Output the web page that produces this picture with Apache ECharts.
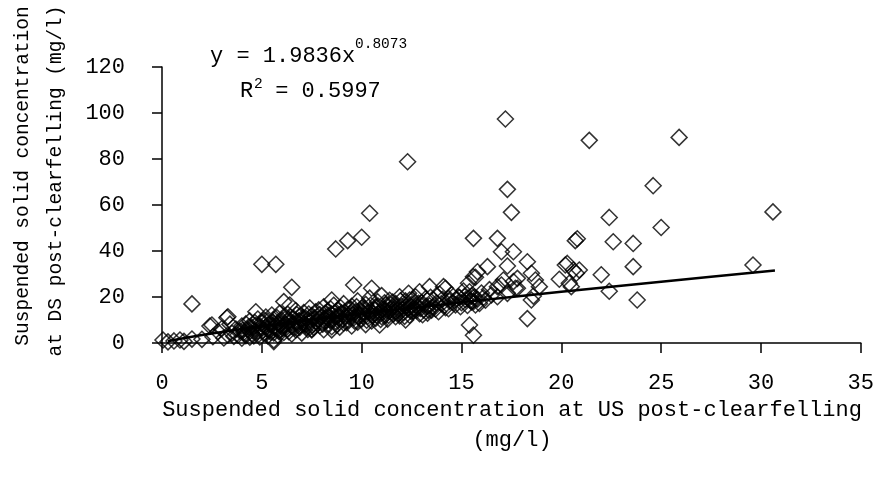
<!DOCTYPE html>
<html>
<head>
<meta charset="utf-8">
<script src="https://cdn.jsdelivr.net/npm/echarts@6/dist/echarts.min.js"></script>
<style>
html,body{margin:0;padding:0;background:#fff;}
#chart{width:877px;height:479px;}
</style>
</head>
<body>
<div id="chart"></div>
<script>
// Tick settings
var xTicks = {min: 0, max: 35, interval: 5};
var yTicks = {min: 0, max: 120, interval: 20};

// Texts
var xTitle1 = 'Suspended solid concentration at US post-clearfelling';
var xTitle2 = '(mg/l)';
var yTitle1 = 'Suspended solid concentration';
var yTitle2 = 'at DS post-clearfelling (mg/l)';
var eqMain = 'y = 1.9836x';
var eqExp = '0.8073';
var r2Label = 'R';
var r2Exp = '2';
var r2Value = ' = 0.5997';

// Scattered outliers (US, DS)
var outlierPoints = [
  [1.5,17],[5.0,34.2],[5.7,34.2],[8.7,40.9],[9.3,44.5],[10.0,46],[10.4,56.4],[12.3,78.8],
  [17.2,97.4],[17.3,66.8],[17.5,56.8],[15.6,45.5],[16.8,45.5],[21.4,88.1],[25.9,89.4],
  [24.6,68.4],[22.4,54.6],[25.0,50.2],[22.6,44],[23.6,43.3],[20.7,44.5],[20.8,45.3],
  [23.6,33.2],[22.0,29.7],[22.4,22.5],[23.8,18.7],[18.3,10.6],[15.4,7.8],[15.6,3.4],
  [30.6,57],[29.6,33.9],
  [6.5,24.2],[9.6,25.2],[10.5,23.8],[8.5,18.7],[6.1,18],[6.4,16.5],
  [16.3,33.2],[17.3,33.5],[17.0,39.7],[17.6,39.7],[18.3,35.3],[18.5,30.3],[18.7,27.4],
  [18.9,24.5],[17.8,28.1],[17.6,26.7],[18.5,18.7],[18.6,20.4],[19.9,27.7],[20.2,33.9],
  [20.3,34.6],[20.6,31.7],[20.9,31.7],[20.5,24.5],[20.75,30.3],[20.4,26],
  [15.8,31],[15.6,28.8],[15.7,28.6],[15.35,26],[15.4,22.3],[17.0,25.2],[17.1,27.4],
  [17.3,21.6],[17.7,23.8],[16.8,20.1],[16.5,20.9],[16.8,24.5],[17.8,23.8],
  [12.9,22.3],[13.4,24.5],[14.1,24.5],[14.2,23.8],[11.9,20.1],[12.6,15.1],[12.4,18.7],
  [13.5,14.3],[14.35,19.4],[14.85,20.1],[15.35,19.4],[15.6,18],[15.7,16.5],[11.7,11.4],
  [12.2,10],[11.45,16.5],[12.35,21.6],[12.5,13.6],[12.5,15.8],[13.35,14.3],[10.9,7.8]
];

// Low-range points near the origin
var lowPoints = [
  [0.05,1.3],[0.3,0.5],[0.6,0.9],[0.9,1.3],[1.1,0.7],[1.5,1.7],[2.0,1.6],[2.4,7.4],
  [2.5,7.8],[2.55,2.7],[2.8,4.9],[3.0,6.3],[3.1,2.2],[3.25,11],[3.3,3.5],[3.3,11.4],
  [3.4,8.2],[4.7,13.6],[5.6,0.6],[5.6,1.3],[7.5,6],[8.5,5.7],[7.5,5.7]
];

// Dense band of points along the trend
var bandPoints = [
  [3.5,4.2],[3.6,2.8],[3.7,6.1],[3.8,3.5],[3.9,5.2],[4.0,7.4],[4.0,2.1],[4.1,4.6],[4.2,8.3],
  [4.2,3.2],[4.3,5.9],[4.4,2.5],[4.4,9.6],[4.5,6.8],[4.5,4.0],[4.6,3.1],[4.7,7.7],[4.8,5.1],
  [4.8,10.4],[4.9,2.6],
  [5.0,6.3],[5.0,8.9],[5.1,4.2],[5.2,11.3],[5.2,7.0],[5.3,3.1],[5.3,9.5],[5.4,5.4],[5.5,12.2],
  [5.5,7.8],[5.6,4.4],[5.6,10.1],[5.7,6.2],[5.8,8.7],[5.8,3.4],[5.9,13.0],[5.9,5.6],[6.0,9.9],
  [6.0,7.2],[6.1,4.6],[6.1,11.4],
  [6.2,8.1],[6.3,6.0],[6.3,12.5],[6.4,9.4],[6.5,3.9],[6.5,7.3],[6.6,10.6],[6.7,14.1],[6.7,5.7],
  [6.8,8.8],[6.9,11.7],[6.9,6.8],[7.0,9.6],[7.0,4.3],[7.1,13.2],[7.2,7.9],[7.2,10.8],[7.3,5.9],
  [7.4,15.2],[7.4,9.0],[7.5,11.9],
  [7.6,8.4],[7.6,6.7],[7.7,13.6],[7.8,10.3],[7.9,7.5],[7.9,12.4],[8.0,9.2],[8.1,15.7],[8.1,5.8],
  [8.2,11.2],[8.3,8.1],[8.3,13.9],[8.4,10.0],[8.5,12.6],[8.5,7.1],[8.6,16.4],[8.7,9.4],[8.7,11.5],
  [8.8,14.2],[8.9,6.9],[8.9,10.7],[9.0,13.0],
  [9.1,8.7],[9.1,17.1],[9.2,11.9],[9.3,14.6],[9.3,9.8],[9.4,12.7],[9.5,7.4],[9.5,16.0],[9.6,10.9],
  [9.7,13.6],[9.8,9.1],[9.8,18.3],[9.9,12.1],[10.0,15.2],[10.0,10.3],[10.1,13.0],[10.2,8.0],
  [10.2,16.8],[10.3,11.6],[10.4,14.1],[10.4,19.5],[10.5,9.6],
  [10.6,12.8],[10.7,15.7],[10.7,10.7],[10.8,17.9],[10.9,13.5],[11.0,11.4],[11.0,20.6],[11.1,14.7],
  [11.2,12.2],[11.2,16.5],[11.3,10.4],[11.4,18.6],[11.4,13.8],[11.5,15.1],[11.6,12.6],[11.7,17.2],
  [11.8,14.3],[11.9,11.8],[12.0,16.0],
  [12.1,13.2],[12.2,18.3],[12.3,14.9],[12.4,12.1],[12.5,16.8],[12.6,13.9],[12.7,20.1],[12.8,15.5],
  [12.9,12.7],[13.0,17.6],[13.1,14.4],[13.2,19.2],[13.3,13.0],[13.4,16.2],[13.6,18.8],[13.7,14.8],
  [13.9,21.3],[14.0,17.1],[14.2,15.3],
  [14.4,18.2],[14.5,21.0],[14.7,16.6],[14.9,19.8],[15.0,17.5],[15.1,22.6],[15.2,18.8],[15.3,16.3],
  [15.5,20.5],[15.5,17.9],[15.8,19.0],[16.0,21.7],[16.2,18.6],[16.4,23.2]
];

// Additional overlapping points in the densest part of the band
var bandPoints2 = [
  [4.05,5.6],[4.15,3.9],[4.35,7.0],[4.55,5.3],[4.65,8.9],[4.85,3.8],[4.95,7.1],[5.05,5.2],
  [5.15,9.8],[5.25,6.1],[5.35,8.2],[5.45,4.7],[5.55,9.0],[5.65,7.1],[5.75,11.1],[5.85,5.0],
  [5.95,8.0],[6.05,6.3],[6.15,10.2],[6.25,7.0],[6.35,4.9],[6.45,11.3],[6.55,8.6],[6.65,6.6],
  [6.75,12.4],[6.85,9.7],[6.95,7.8],[7.05,11.0],[7.15,8.5],[7.25,6.9],[7.35,12.6],[7.45,10.2],
  [7.55,7.7],[7.65,10.9],[7.75,9.0],[7.85,14.4],[7.95,11.1],[8.05,8.2],[8.15,12.8],[8.25,9.8],
  [8.35,11.9],[8.45,14.8],[8.55,9.9],[8.65,13.1],[8.75,7.9],[8.85,12.2],[8.95,15.3],[9.05,10.1],
  [9.15,13.4],[9.25,8.8],[9.35,11.6],[9.45,14.9],[9.55,12.4],[9.65,9.5],[9.75,15.8],[9.85,11.1],
  [9.95,13.9],[10.05,11.9],[10.15,15.1],[10.25,9.9],[10.35,13.2],[10.45,16.4],[10.55,11.8],
  [10.65,14.4],[10.75,12.2],[10.85,15.9],[10.95,10.2],[11.05,13.4],[11.15,17.5],[11.25,14.0],
  [11.35,12.0],[11.45,14.6],[11.55,17.8],[11.65,13.5],[11.75,15.7],[11.85,12.9],[11.95,18.4],
  [12.05,14.6],[12.15,11.6],[12.25,16.2],[12.45,14.1],[12.55,18.9],[12.75,14.2],[12.85,17.3],
  [12.95,15.0],[13.05,12.3],[13.25,16.0],[13.45,19.9],[13.55,15.6],[13.75,17.4],[13.85,13.6],
  [14.05,19.0],[14.15,16.3],[14.35,14.9],[14.55,17.6],[14.75,19.1],[14.95,15.8],[15.15,20.2],
  [15.45,18.5],[15.65,20.0],[15.9,17.2],[16.1,19.8]
];

// Power trend line
var trendX = [0.3,0.6,1,1.5,2,3,4,5,6.5,8,10,12.5,15,17.5,20,22.5,25,27.5,30.7];
var trendY = [0.75,1.31,1.98,2.75,3.47,4.82,6.07,7.27,8.99,10.63,12.73,15.24,17.66,20.0,22.28,24.50,26.68,28.80,31.48];

var FONT = 'Liberation Mono';
var scatterData = outlierPoints.concat(lowPoints, bandPoints, bandPoints2);
var trendData = trendX.map(function (x, i) { return [x, trendY[i]]; });

var chart = echarts.init(document.getElementById('chart'), null, {renderer: 'canvas'});
var option = {
  animation: false,
  backgroundColor: '#fff',
  grid: {left: 162, right: 12, top: 67, bottom: 136, containLabel: false},
  xAxis: {
    type: 'value', min: xTicks.min, max: xTicks.max, interval: xTicks.interval,
    axisLine: {lineStyle: {color: '#000', width: 1.5}},
    axisTick: {show: true, inside: false, length: 10, lineStyle: {color: '#000', width: 1.5}},
    axisLabel: {color: '#000', fontFamily: FONT, fontSize: 22, margin: 29},
    splitLine: {show: false}
  },
  yAxis: {
    type: 'value', min: yTicks.min, max: yTicks.max, interval: yTicks.interval,
    axisLine: {show: true, lineStyle: {color: '#000', width: 1.5}},
    axisTick: {show: true, inside: false, length: 10, lineStyle: {color: '#000', width: 1.5}},
    axisLabel: {color: '#000', fontFamily: FONT, fontSize: 22, margin: 37},
    splitLine: {show: false}
  },
  series: [
    {
      type: 'scatter',
      data: scatterData,
      symbol: 'diamond',
      symbolSize: 16,
      itemStyle: {color: 'rgba(0,0,0,0)', borderColor: '#000', borderWidth: 1.5},
      emphasis: {disabled: true},
      z: 2
    },
    {
      type: 'line',
      data: trendData,
      showSymbol: false,
      symbol: 'none',
      lineStyle: {color: '#000', width: 2.5},
      emphasis: {disabled: true},
      z: 3
    }
  ],
  graphic: [
    {type: 'text', x: 210, y: 56, style: {text: eqMain, font: '22px "' + FONT + '"', fill: '#000', align: 'left', verticalAlign: 'middle'}},
    {type: 'text', x: 355, y: 44, style: {text: eqExp, font: '14.5px "' + FONT + '"', fill: '#000', align: 'left', verticalAlign: 'middle'}},
    {type: 'text', x: 240, y: 91, style: {text: r2Label, font: '22px "' + FONT + '"', fill: '#000', align: 'left', verticalAlign: 'middle'}},
    {type: 'text', x: 254, y: 84, style: {text: r2Exp, font: '14.5px "' + FONT + '"', fill: '#000', align: 'left', verticalAlign: 'middle'}},
    {type: 'text', x: 262, y: 91, style: {text: r2Value, font: '22px "' + FONT + '"', fill: '#000', align: 'left', verticalAlign: 'middle'}},
    {type: 'text', x: 512, y: 410, style: {text: xTitle1, font: '22px "' + FONT + '"', fill: '#000', align: 'center', verticalAlign: 'middle'}},
    {type: 'text', x: 512, y: 440, style: {text: xTitle2, font: '22px "' + FONT + '"', fill: '#000', align: 'center', verticalAlign: 'middle'}},
    {type: 'text', x: 23, y: 176, rotation: Math.PI / 2, style: {text: yTitle1, font: '19.5px "' + FONT + '"', fill: '#000', align: 'center', verticalAlign: 'middle'}},
    {type: 'text', x: 56, y: 181, rotation: Math.PI / 2, style: {text: yTitle2, font: '19.5px "' + FONT + '"', fill: '#000', align: 'center', verticalAlign: 'middle'}}
  ]
};
chart.setOption(option);
</script>
</body>
</html>
